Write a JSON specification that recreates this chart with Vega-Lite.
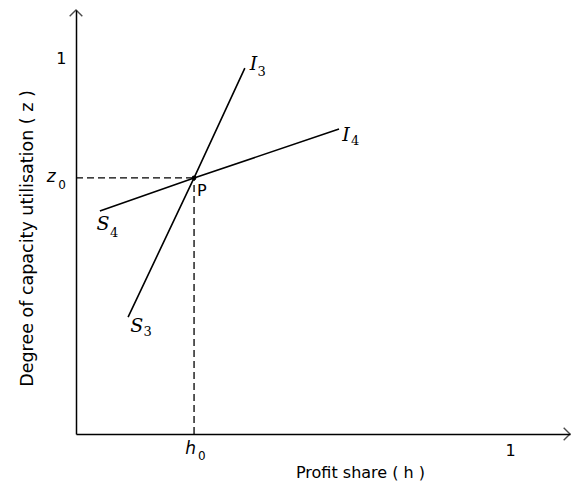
{
  "$schema": "https://vega.github.io/schema/vega-lite/v6.json",
  "width": 494,
  "height": 424,
  "autosize": "none",
  "padding": {"left": 76, "top": 10, "right": 3, "bottom": 51},
  "background": "white",
  "config": {"view": {"stroke": null}, "font": "DejaVu Sans"},
  "datasets": {
    "curves": [
      {"curve": "S3I3", "h": 0.120, "z": 0.311},
      {"curve": "S3I3", "h": 0.272, "z": 0.681},
      {"curve": "S3I3", "h": 0.389, "z": 0.973},
      {"curve": "S4I4", "h": 0.055, "z": 0.593},
      {"curve": "S4I4", "h": 0.272, "z": 0.681},
      {"curve": "S4I4", "h": 0.606, "z": 0.811}
    ],
    "eq": [{"h": 0.272, "z": 0.681, "h0": 0, "z0": 0}],
    "labels": [
      {"text": "I", "h": 0.409, "z": 0.985, "sub": "3", "sh": 0.428, "sz": 0.962},
      {"text": "I", "h": 0.622, "z": 0.795, "sub": "4", "sh": 0.643, "sz": 0.778},
      {"text": "S", "h": 0.062, "z": 0.559, "sub": "4", "sh": 0.088, "sz": 0.535},
      {"text": "S", "h": 0.140, "z": 0.286, "sub": "3", "sh": 0.165, "sz": 0.270}
    ],
    "axlabels": [
      {"text": "z", "h": -0.057, "z": 0.683, "sub": "0", "sh": -0.032, "sz": 0.662},
      {"text": "h", "h": 0.264, "z": -0.040, "sub": "0", "sh": 0.290, "sz": -0.058}
    ],
    "plabel": [{"text": "P", "h": 0.290, "z": 0.646}],
    "arrows": [
      {"h": 0, "z": 1.1277, "angle": 0},
      {"h": 1.1382, "z": 0, "angle": 90}
    ]
  },
  "layer": [
    {
      "data": {"name": "eq"},
      "mark": {"type": "rule", "strokeDash": [7, 4], "strokeWidth": 1.3, "color": "black"},
      "encoding": {
        "x": {"field": "h0", "type": "quantitative", "scale": {"domain": [0, 1.1382], "nice": false, "zero": false},
          "axis": {"values": [1], "labelExpr": "'1'", "ticks": false, "grid": false,
            "domainColor": "black", "domainWidth": 1.5, "labelFontSize": 16, "labelColor": "black", "labelPadding": 8,
            "title": "Profit share ( h )", "titleFontSize": 16, "titleFontWeight": "normal", "titleColor": "black",
            "titleX": 284, "titleY": 38, "titleBaseline": "middle", "titleAnchor": "middle", "titleAlign": "center"}},
        "x2": {"field": "h"},
        "y": {"field": "z", "type": "quantitative", "scale": {"domain": [0, 1.1277], "nice": false, "zero": false},
          "axis": {"values": [1], "labelExpr": "'1'", "ticks": false, "grid": false,
            "domainColor": "black", "domainWidth": 1.5, "labelFontSize": 16, "labelColor": "black", "labelPadding": 10,
            "title": "Degree of capacity utilisation ( z )", "titleFontSize": 17.5, "titleFontWeight": "normal", "titleColor": "black",
            "titleX": -49, "titleY": 228, "titleAngle": -90, "titleBaseline": "middle", "titleAnchor": "middle", "titleAlign": "center"}}
      }
    },
    {
      "data": {"name": "eq"},
      "mark": {"type": "rule", "strokeDash": [7, 4], "strokeWidth": 1.3, "color": "black"},
      "encoding": {
        "x": {"field": "h", "type": "quantitative"},
        "y": {"field": "z0", "type": "quantitative"},
        "y2": {"field": "z"}
      }
    },
    {
      "data": {"name": "curves"},
      "mark": {"type": "line", "color": "black", "strokeWidth": 1.6},
      "encoding": {
        "x": {"field": "h", "type": "quantitative"},
        "y": {"field": "z", "type": "quantitative"},
        "detail": {"field": "curve"}
      }
    },
    {
      "data": {"name": "eq"},
      "mark": {"type": "point", "filled": true, "color": "black", "size": 22, "opacity": 1},
      "encoding": {
        "x": {"field": "h", "type": "quantitative"},
        "y": {"field": "z", "type": "quantitative"}
      }
    },
    {
      "data": {"name": "labels"},
      "mark": {"type": "text", "font": "DejaVu Serif", "fontStyle": "italic", "fontSize": 19, "color": "black", "baseline": "middle", "align": "center"},
      "encoding": {
        "x": {"field": "h", "type": "quantitative"},
        "y": {"field": "z", "type": "quantitative"},
        "text": {"field": "text"}
      }
    },
    {
      "data": {"name": "labels"},
      "mark": {"type": "text", "font": "DejaVu Serif", "fontSize": 13, "color": "black", "baseline": "middle", "align": "center"},
      "encoding": {
        "x": {"field": "sh", "type": "quantitative"},
        "y": {"field": "sz", "type": "quantitative"},
        "text": {"field": "sub"}
      }
    },
    {
      "data": {"name": "axlabels"},
      "mark": {"type": "text", "fontStyle": "italic", "fontSize": 17, "color": "black", "baseline": "middle", "align": "center"},
      "encoding": {
        "x": {"field": "h", "type": "quantitative"},
        "y": {"field": "z", "type": "quantitative"},
        "text": {"field": "text"}
      }
    },
    {
      "data": {"name": "axlabels"},
      "mark": {"type": "text", "fontSize": 12, "color": "black", "baseline": "middle", "align": "center"},
      "encoding": {
        "x": {"field": "sh", "type": "quantitative"},
        "y": {"field": "sz", "type": "quantitative"},
        "text": {"field": "sub"}
      }
    },
    {
      "data": {"name": "plabel"},
      "mark": {"type": "text", "fontSize": 16, "color": "black"},
      "encoding": {
        "x": {"field": "h", "type": "quantitative"},
        "y": {"field": "z", "type": "quantitative"},
        "text": {"field": "text"}
      }
    },
    {
      "data": {"name": "arrows"},
      "mark": {"type": "point", "shape": "M-1,1L0,0L1,1", "filled": false, "stroke": "black", "strokeWidth": 1.4, "size": 160, "clip": false},
      "encoding": {
        "x": {"field": "h", "type": "quantitative"},
        "y": {"field": "z", "type": "quantitative"},
        "angle": {"field": "angle", "type": "quantitative", "scale": null}
      }
    }
  ]
}
